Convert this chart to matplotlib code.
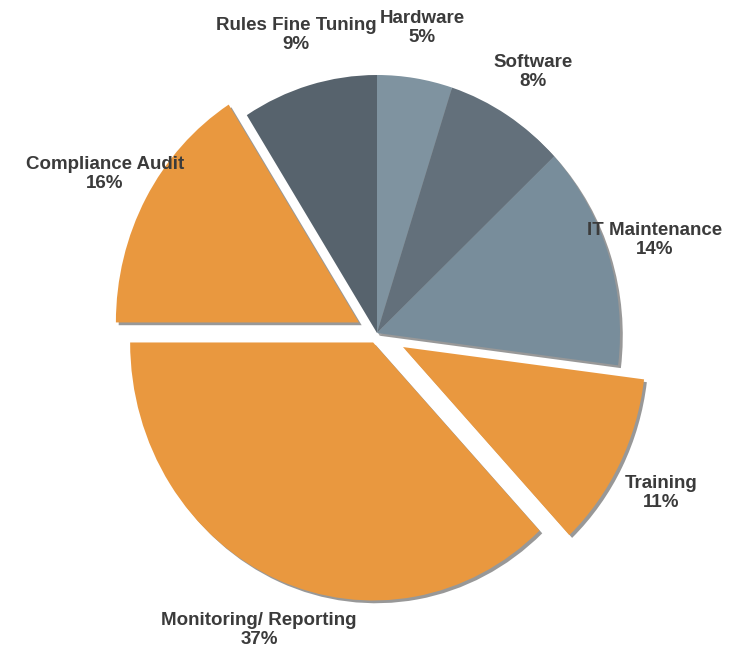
import matplotlib.pyplot as plt
import matplotlib.patches as mpatches
import matplotlib.transforms as mtransforms

# slice data, clockwise from 12 o'clock
categories = ['Hardware', 'Software', 'IT Maintenance', 'Training',
              'Monitoring/ Reporting', 'Compliance Audit', 'Rules Fine Tuning']
shares = [5, 8, 14, 11, 37, 16, 9]
explode = [0, 0, 0, 0.12, 0.04, 0.085, 0]
colors = ['#7f93a0', '#63707b', '#788d9b', '#e9983f', '#e9983f', '#e9983f', '#57636d']

# label block centres in data units (pie radius = 1)
label_xy = [(0.185, 1.183), (0.642, 1.012), (1.144, 0.360), (1.169, -0.620),
            (-0.486, -1.151), (-1.119, 0.616), (-0.333, 1.155)]

plt.rcParams['font.family'] = ['Liberation Sans', 'DejaVu Sans']

fig = plt.figure(figsize=(7.4, 6.54), dpi=100)
ax = fig.add_axes([0, 0, 1, 1])

wedges, _ = ax.pie(shares, explode=explode, colors=colors, startangle=90,
                   counterclock=False, radius=1,
                   wedgeprops=dict(linewidth=0, zorder=3))

# drop shadows under all slices (drawn behind every wedge)
shift = mtransforms.ScaledTranslation(2 / 72, -2 / 72, fig.dpi_scale_trans)
for w in wedges:
    sh = mpatches.Wedge(w.center, w.r, w.theta1, w.theta2, facecolor='#333333',
                        alpha=0.5, linewidth=0, zorder=2,
                        transform=ax.transData + shift)
    ax.add_patch(sh)

# pie is slightly taller than wide in the original
ax.set_aspect('auto')
ax.set_xlim(-377 / 243, (740 - 377) / 243)
ax.set_ylim(-(654 - 333) / 258, 333 / 258)
ax.axis('off')

for name, val, (x, y) in zip(categories, shares, label_xy):
    ax.text(x, y, '%s\n%d%%' % (name, val), ha='center', va='center',
            multialignment='center', fontsize=13.5, fontweight='bold',
            color='#3b3b3b', linespacing=1.15, zorder=5)

fig.savefig('out.png', dpi=100, facecolor='white')
